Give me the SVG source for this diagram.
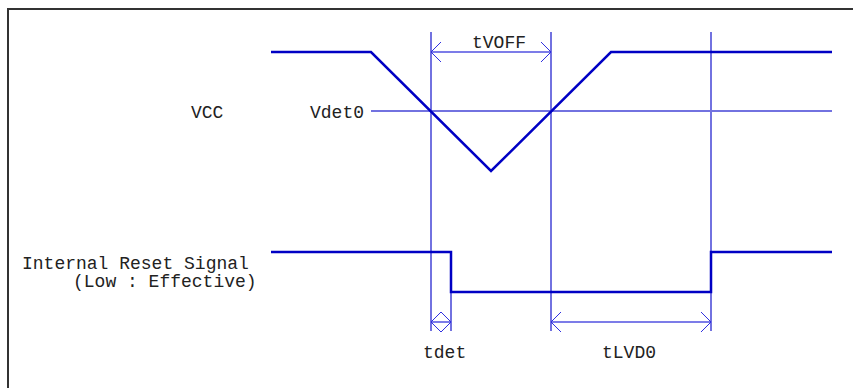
<svg xmlns="http://www.w3.org/2000/svg" width="853" height="388" viewBox="0 0 853 388">
  <style>
    .txt { font-family: "Liberation Mono", "DejaVu Sans Mono", monospace; font-size: 18px; fill: #222; }
    .wave { fill: none; stroke: #0000c4; stroke-width: 2.5; stroke-linejoin: miter; }
    .guide { fill: none; stroke: #7272e0; stroke-width: 2; }
    .dim { fill: none; stroke: #5050e0; stroke-width: 1.5; }
    .frame { fill: none; stroke: #333; stroke-width: 2; }
  </style>
  <defs>
    <marker id="open" viewBox="0 0 12 22" refX="11" refY="11" markerWidth="12" markerHeight="22" markerUnits="userSpaceOnUse" orient="auto-start-reverse">
      <path d="M1,1 L11,11 L1,21" fill="none" stroke="#3030e0" stroke-width="1"/>
    </marker>
  </defs>
  <rect width="853" height="388" fill="#fff"/>
  <path class="frame" d="M8,388 V9 H853"/>

  <g id="guides">
    <line class="guide" x1="371" y1="111" x2="832" y2="111"/>
    <line class="guide" x1="431" y1="32" x2="431" y2="331"/>
    <line class="guide" x1="551" y1="32" x2="551" y2="331"/>
    <line class="guide" x1="711" y1="32" x2="711" y2="331"/>
    <line class="guide" x1="451" y1="252" x2="451" y2="331"/>
  </g>

  <g id="vcc-wave">
    <polyline class="wave" points="271,52 371,52 491,171 611,52 832,52"/>
  </g>

  <g id="reset-wave">
    <polyline class="wave" points="271,252 451,252 451,292 711,292 711,252 832,252"/>
  </g>

  <g id="connectors">
    <line class="dim" x1="431" y1="52" x2="551" y2="52" marker-start="url(#open)" marker-end="url(#open)"/>
    <line class="dim" x1="431" y1="322" x2="451" y2="322" marker-start="url(#open)" marker-end="url(#open)"/>
    <line class="dim" x1="551" y1="322" x2="711" y2="322" marker-start="url(#open)" marker-end="url(#open)"/>
  </g>

  <g id="labels">
    <text class="txt" x="191" y="118">VCC</text>
    <text class="txt" x="310" y="118">Vdet0</text>
    <text class="txt" x="472" y="48">tVOFF</text>
    <text class="txt" x="22" y="269">Internal Reset Signal</text>
    <text class="txt" x="73" y="287">(Low : Effective)</text>
    <text class="txt" x="423" y="358">tdet</text>
    <text class="txt" x="602" y="358">tLVD0</text>
  </g>
</svg>
